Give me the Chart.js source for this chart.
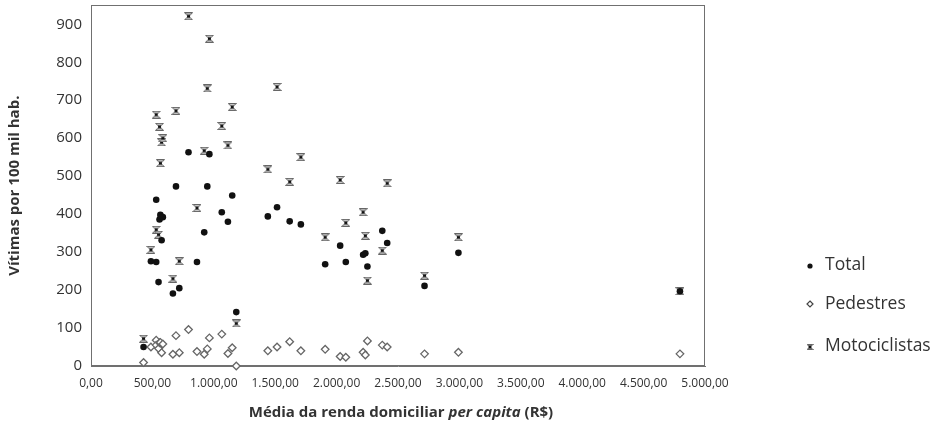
<!DOCTYPE html>
<html>
<head>
<meta charset="utf-8">
<script src="https://cdn.jsdelivr.net/npm/chart.js@4.4.1/dist/chart.umd.min.js"></script>
<style>
  html, body { margin: 0; padding: 0; background: #ffffff; }
  #wrap { position: relative; width: 939px; height: 431px; }
</style>
</head>
<body>
<div id="wrap"><canvas id="c" width="939" height="431"></canvas></div>
<script>
// ---- data ----
const income = [428, 488, 531, 531, 550, 558, 565, 575, 585, 667, 692, 719, 794, 863, 922, 947, 964, 1065, 1115, 1150, 1183, 1440, 1515, 1618, 1709, 1907, 2029, 2075, 2216, 2234, 2251, 2372, 2412, 2716, 2992, 4796];
const total = [50, 276, 438, 274, 221, 386, 398, 331, 392, 191, 473, 205, 563, 274, 352, 473, 558, 405, 380, 449, 142, 394, 418, 381, 373, 268, 317, 274, 293, 297, 262, 356, 324, 211, 298, 197];
const pedestres = [9, 50, 68, 55, 46, 61, 62, 35, 58, 31, 80, 35, 96, 38, 31, 45, 74, 84, 33, 48, 0, 40, 50, 64, 40, 44, 25, 23, 36, 29, 66, 55, 50, 32, 36, 32];
const motociclistas = [72, 306, 662, 359, 346, 630, 534, 589, 600, 230, 672, 276, 921, 416, 567, 731, 862, 632, 581, 682, 112, 518, 735, 485, 550, 339, 490, 377, 405, 343, 225, 304, 481, 238, 339, 197];
const seriesNames = ['Total', 'Pedestres', 'Motociclistas'];
const xTickLabels = ['0,00', '500,00', '1.000,00', '1.500,00', '2.000,00', '2.500,00', '3.000,00', '3.500,00', '4.000,00', '4.500,00', '5.000,00'];
const yTickLabels = ['0', '100', '200', '300', '400', '500', '600', '700', '800', '900'];
const xTitleParts = ['Média da renda domiciliar ', 'per capita', ' (R$)'];
const yTitle = 'Vítimas por 100 mil hab.';

const FONT = "'Open Sans', 'Noto Sans', sans-serif";
const TXT = '#333333';

function makeMoto(w, h) {
  const c = document.createElement('canvas');
  c.width = w; c.height = h;
  const g = c.getContext('2d');
  g.strokeStyle = '#666666';
  g.lineWidth = 1;
  g.beginPath();
  g.moveTo(0.5, 0.5); g.lineTo(w - 0.5, 0.5);
  g.lineTo(0.5, h - 0.5); g.lineTo(w - 0.5, h - 0.5);
  g.closePath();
  g.fillStyle = '#cfcfcf';
  g.fill();
  g.stroke();
  g.fillStyle = '#111111';
  g.fillRect(w / 2 - 1.5, h / 2 - 1.5, 3, 3);
  return c;
}
const motoPoint = makeMoto(9, 8);
const motoLegend = makeMoto(7, 6);

const pts = (ys) => income.map((x, i) => ({ x: x, y: ys[i] }));

const boxPlugin = {
  id: 'plotBox',
  beforeDatasetsDraw(chart) {
    const { ctx, chartArea: a } = chart;
    ctx.save();
    ctx.strokeStyle = '#707070';
    ctx.lineWidth = 1;
    ctx.strokeRect(Math.round(a.left) + 0.5, Math.round(a.top) + 0.5, Math.round(a.right - a.left) - 1, Math.round(a.bottom - a.top) - 1);
    ctx.restore();
  }
};

const xTitlePlugin = {
  id: 'xTitle',
  afterDraw(chart) {
    const ctx = chart.ctx;
    const fonts = ["bold 15px " + FONT, "italic bold 15px " + FONT, "bold 15px " + FONT];
    let widths = xTitleParts.map((t, i) => { ctx.font = fonts[i]; return ctx.measureText(t).width; });
    const totalW = widths.reduce((a, b) => a + b, 0);
    let x = 401 - totalW / 2;
    const y = 413;
    ctx.save();
    ctx.fillStyle = TXT;
    ctx.textBaseline = 'middle';
    ctx.textAlign = 'left';
    xTitleParts.forEach((t, i) => { ctx.font = fonts[i]; ctx.fillText(t, x, y); x += widths[i]; });
    ctx.restore();
  }
};

const legendPlugin = {
  id: 'sideLegend',
  afterDraw(chart) {
    const ctx = chart.ctx;
    const ys = [265, 304, 346];
    const mx = 810, tx = 825;
    ctx.save();
    ctx.font = "17.5px " + FONT;
    ctx.fillStyle = TXT;
    ctx.textBaseline = 'middle';
    ctx.textAlign = 'left';
    seriesNames.forEach((n, i) => {
      const y = ys[i];
      if (i === 0) {
        ctx.beginPath(); ctx.arc(mx, y + 1, 2.6, 0, Math.PI * 2);
        ctx.fillStyle = '#111'; ctx.fill();
      } else if (i === 1) {
        ctx.beginPath();
        ctx.moveTo(mx, y - 3); ctx.lineTo(mx + 3, y); ctx.lineTo(mx, y + 3); ctx.lineTo(mx - 3, y); ctx.closePath();
        ctx.fillStyle = '#fff'; ctx.fill();
        ctx.strokeStyle = '#444'; ctx.lineWidth = 1.2; ctx.stroke();
      } else {
        ctx.drawImage(motoLegend, mx - 3.5, y - 2);
      }
      ctx.fillStyle = TXT;
      ctx.fillText(n, tx, y);
    });
    ctx.restore();
  }
};

new Chart(document.getElementById('c'), {
  type: 'scatter',
  data: {
    datasets: [
      { label: seriesNames[0], data: pts(total), pointStyle: 'circle', pointRadius: 3.3, backgroundColor: '#111111', borderColor: '#111111', borderWidth: 0, clip: false },
      { label: seriesNames[1], data: pts(pedestres), pointStyle: 'rectRot', pointRadius: 3.8, backgroundColor: '#ffffff', borderColor: '#666666', borderWidth: 1.3, clip: false },
      { label: seriesNames[2], data: pts(motociclistas), pointStyle: motoPoint, backgroundColor: '#666', borderColor: '#666', clip: false }
    ]
  },
  options: {
    responsive: false,
    animation: false,
    events: [],
    layout: { padding: { left: 0, top: 3, right: 234, bottom: 0 } },
    plugins: { legend: { display: false }, tooltip: { enabled: false } },
    scales: {
      x: {
        type: 'linear', min: 0, max: 5000,
        grid: { display: false, drawTicks: false },
        border: { display: true, color: '#707070' },
        ticks: {
          stepSize: 500, padding: 10, color: TXT, maxRotation: 0,
          font: { family: FONT, size: 12 },
          callback: (v) => xTickLabels[Math.round(v / 500)]
        },
        afterFit(scale) { scale.height = 65; scale.paddingLeft = 0; scale.paddingRight = 0; }
      },
      y: {
        type: 'linear', min: 0, max: 950,
        grid: { display: false, drawTicks: false },
        border: { display: true, color: '#707070' },
        ticks: {
          stepSize: 100, padding: 9, color: TXT,
          font: { family: FONT, size: 15 },
          callback: (v) => yTickLabels[Math.round(v / 100)]
        },
        afterBuildTicks(scale) { scale.ticks = scale.ticks.filter(t => t.value % 100 === 0); },
        title: { display: true, text: yTitle, color: TXT, font: { family: FONT, size: 15, weight: 'bold' }, padding: { top: 6, bottom: 0 } },
        afterFit(scale) { scale.width = 91; scale.paddingTop = 0; scale.paddingBottom = 0; }
      }
    }
  },
  plugins: [boxPlugin, xTitlePlugin, legendPlugin]
});
</script>
</body>
</html>
